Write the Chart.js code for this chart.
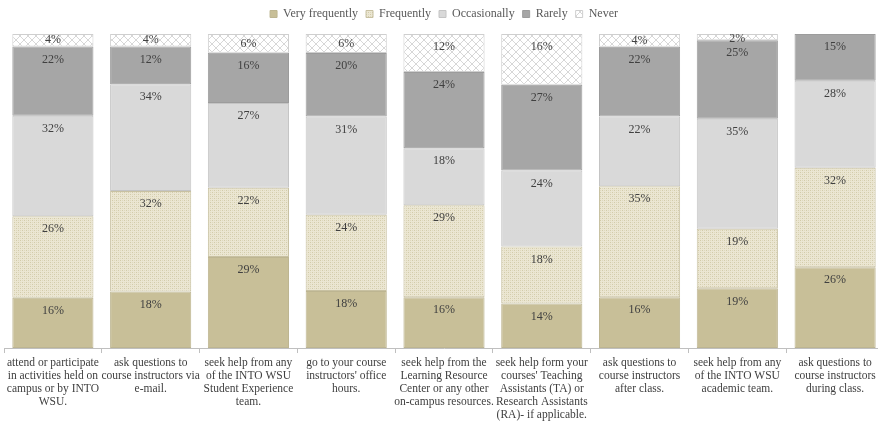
<!DOCTYPE html>
<html>
<head>
<meta charset="utf-8">
<script src="https://cdn.jsdelivr.net/npm/chart.js@4/dist/chart.umd.min.js"></script>
<style>
  html, body { margin: 0; padding: 0; background: #fff; overflow: hidden; }
  #wrap { width: 888px; height: 425px; }
</style>
</head>
<body>
<div id="wrap"><canvas id="freqChart"></canvas></div>
<script>
const categories = [
  ["attend or participate", "in activities held on", "campus or by INTO", "WSU."],
  ["ask questions to", "course instructors via", "e-mail."],
  ["seek help from any", "of the INTO WSU", "Student Experience", "team."],
  ["go to your course", "instructors' office", "hours."],
  ["seek help from the", "Learning Resource", "Center or any other", "on-campus resources."],
  ["seek help form your", "courses' Teaching", "Assistants (TA) or", "Research Assistants", "(RA)- if applicable."],
  ["ask questions to", "course instructors", "after class."],
  ["seek help from any", "of the INTO WSU", "academic team."],
  ["ask questions to", "course instructors", "during class."]
];

const veryFrequently = [16, 18, 29, 18, 16, 14, 16, 19, 26];
const frequently     = [26, 32, 22, 24, 29, 18, 35, 19, 32];
const occasionally   = [32, 34, 27, 31, 18, 24, 22, 35, 28];
const rarely         = [22, 12, 16, 20, 24, 27, 22, 25, 15];
const never          = [4, 4, 6, 6, 12, 16, 4, 2, 0];

const seriesNames = ["Very frequently", "Frequently", "Occasionally", "Rarely", "Never"];

const serif = "'Liberation Serif', 'Times New Roman', serif";

// fill patterns for the hatched segments
const makePattern = (size, draw) => {
  const c = document.createElement("canvas");
  c.width = size; c.height = size;
  const g = c.getContext("2d");
  draw(g, size);
  return g.createPattern(c, "repeat");
};

const dottedCream = makePattern(4, (g, s) => {
  g.fillStyle = "#ebe6d2";
  g.fillRect(0, 0, s, s);
  g.fillStyle = "#d2cba9";
  g.fillRect(0, 0, 1, 1);
  g.fillRect(2, 2, 1, 1);
  g.fillStyle = "#ded8bd";
  g.fillRect(2, 0, 1, 1);
  g.fillRect(0, 2, 1, 1);
});

const diamondWhite = makePattern(8, (g, s) => {
  g.fillStyle = "#ffffff";
  g.fillRect(0, 0, s, s);
  g.strokeStyle = "#cdcdcd";
  g.lineWidth = 0.8;
  g.beginPath();
  g.moveTo(0, 0); g.lineTo(s, s);
  g.moveTo(s, 0); g.lineTo(0, s);
  g.stroke();
});

const rawSeries = [veryFrequently, frequently, occasionally, rarely, never];
const fills = ["#c8bf98", dottedCream, "#d9d9d9", "#a6a6a6", diamondWhite];
const borders = ["#bdb591", "#c8c1a2", "#c4c4c4", "#9c9c9c", "#cfcfcf"];

// 100% stacked: each column is scaled to its own total
const totals = categories.map((_, i) => rawSeries.reduce((s, arr) => s + arr[i], 0));

const datasets = rawSeries.map((arr, k) => ({
  label: seriesNames[k],
  data: arr.map((v, i) => v / totals[i] * 100),
  raw: arr,
  backgroundColor: fills[k],
  borderColor: borders[k],
  borderWidth: 1,
  borderSkipped: false,
  barPercentage: 0.83,
  categoryPercentage: 1
}));

// percentage text near the top of every segment
const segmentLabels = {
  id: "segmentLabels",
  afterDatasetsDraw(chart) {
    const { ctx } = chart;
    ctx.save();
    ctx.font = "12px " + serif;
    ctx.fillStyle = "#404040";
    ctx.textAlign = "center";
    ctx.textBaseline = "middle";
    chart.data.datasets.forEach((ds, di) => {
      chart.getDatasetMeta(di).data.forEach((bar, i) => {
        const v = ds.raw[i];
        if (!v) return;
        const h = bar.base - bar.y;
        const off = Math.max(Math.min(13, h / 2), 5);
        ctx.fillText(v + "%", bar.x, bar.y + off);
      });
    });
    ctx.restore();
  }
};

// a little more room between the legend and the bars
const legendGap = {
  id: "legendGap",
  beforeInit(chart) {
    const fit = chart.legend.fit;
    chart.legend.fit = function () {
      fit.call(this);
      this.height += 4;
    };
  }
};

new Chart(document.getElementById("freqChart"), {
  type: "bar",
  data: { labels: categories, datasets },
  plugins: [segmentLabels, legendGap],
  options: {
    responsive: true,
    maintainAspectRatio: false,
    animation: false,
    layout: { padding: { left: 4, right: 4, top: 0, bottom: 1 } },
    plugins: {
      legend: {
        position: "top",
        labels: {
          boxWidth: 7,
          boxHeight: 7,
          padding: 8,
          color: "#595959",
          font: { family: serif, size: 12 }
        }
      },
      tooltip: { enabled: false }
    },
    scales: {
      x: {
        stacked: true,
        border: { display: true, color: "#bfbfbf" },
        grid: {
          offset: true,
          drawOnChartArea: false,
          drawTicks: true,
          tickLength: 5,
          color: "#bfbfbf"
        },
        ticks: {
          color: "#404040",
          maxRotation: 0,
          autoSkip: false,
          padding: 3,
          font: { family: serif, size: 11.5, lineHeight: 1.13 }
        }
      },
      y: {
        stacked: true,
        display: false,
        min: 0,
        max: 100
      }
    }
  }
});
</script>
</body>
</html>
